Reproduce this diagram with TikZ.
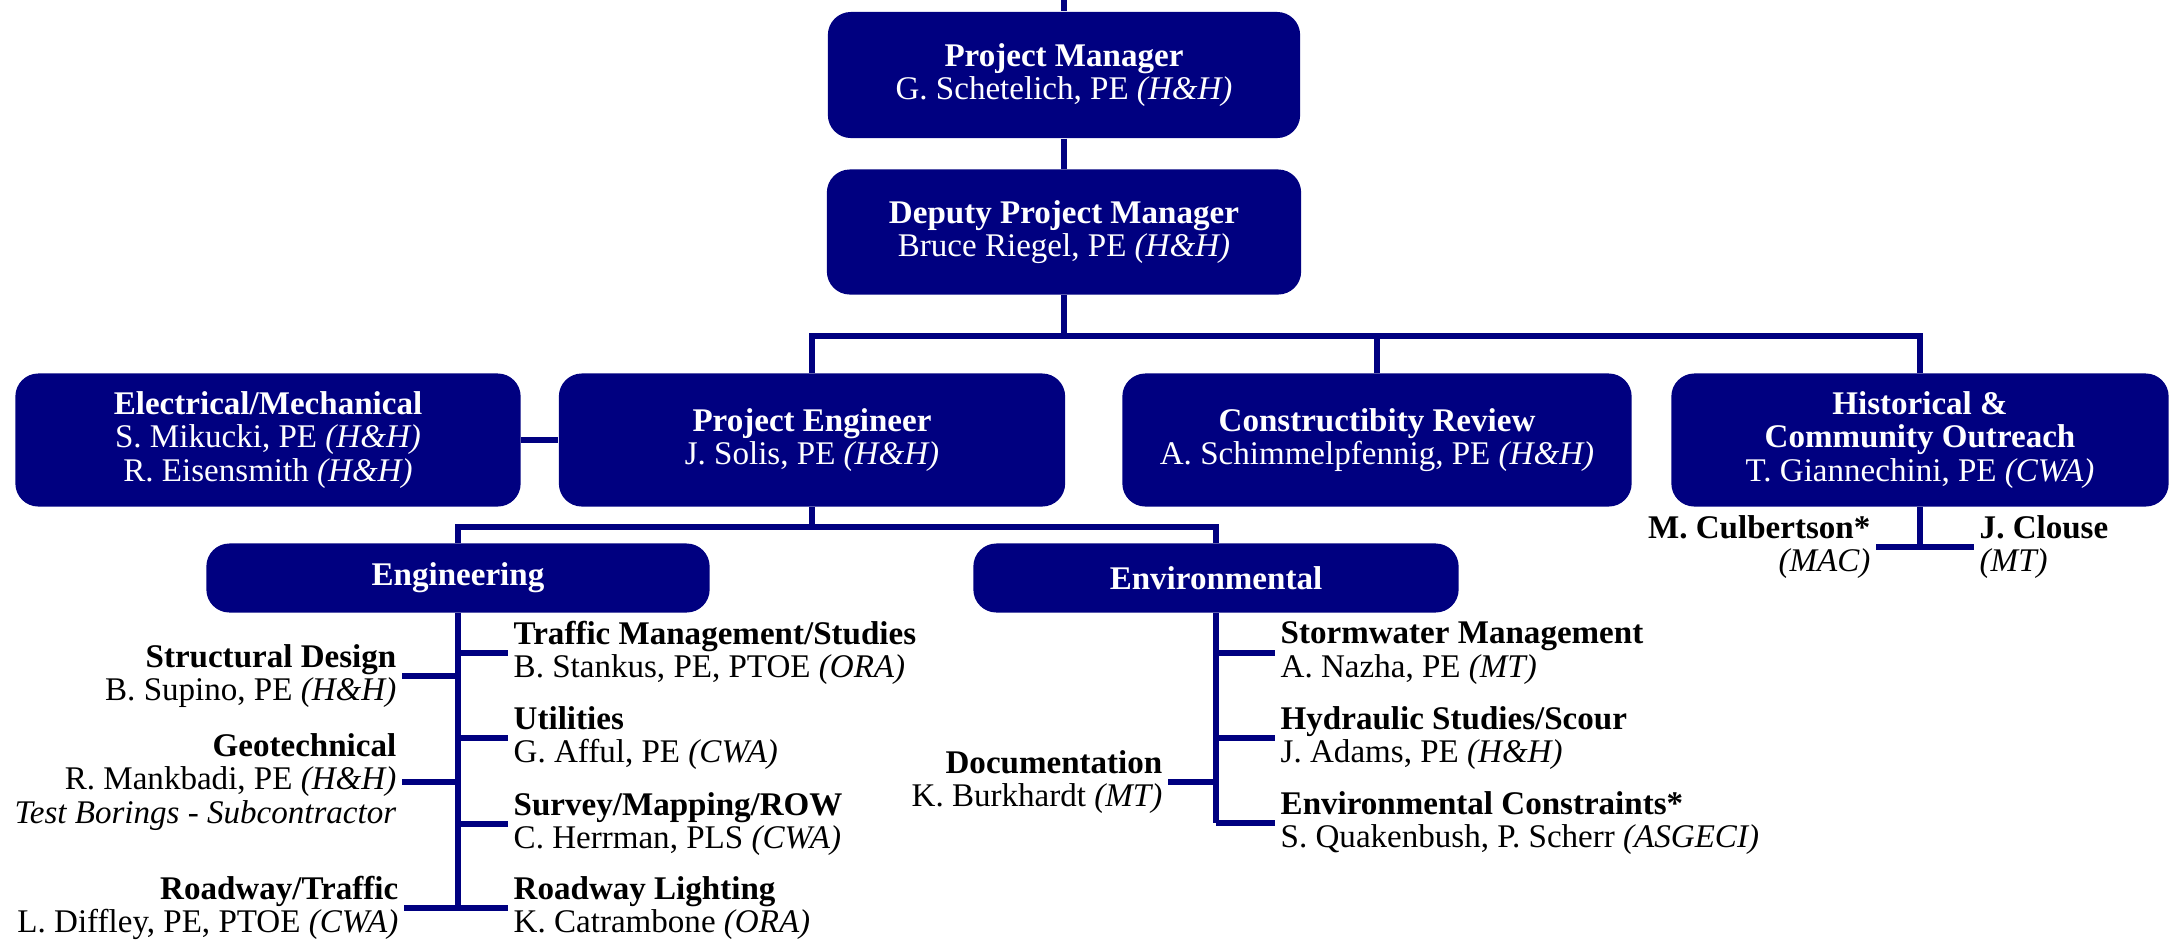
\documentclass[tikz,border=0pt]{standalone}
\usepackage{fontspec}
\setmainfont{Liberation Serif}
\usepackage{xcolor}
\definecolor{orgblue}{RGB}{0,0,128}
\usepackage{tikz}
\tikzstyle{box} = [
    rectangle, rounded corners=0.23cm,
    fill=orgblue, text=white,
    align=center, inner sep=0pt,
    minimum height=1.33cm,
    font=\fontsize{9.4}{9.5}\selectfont,
]
\tikzstyle{leftleaf} = [
    anchor=east, align=right,
    inner xsep=0.05cm, inner ysep=0pt,
    font=\fontsize{9.4}{9.5}\selectfont,
]
\tikzstyle{rightleaf} = [leftleaf, anchor=west, align=left]
\tikzstyle{wire} = [draw=orgblue, line width=1.8pt]

\begin{document}
\begin{tikzpicture}[x=0.01cm, y=-0.01cm]
    \useasboundingbox (0,0) rectangle (2172,951);

    % boxes
    \node (pm) at (1064,75) [box, minimum width=4.72cm, minimum height=1.26cm]
        {\textbf{Project Manager}\\G. Schetelich, PE \textit{(H\&H)}};
    \node (dpm) at (1064,232) [box, minimum width=4.74cm, minimum height=1.25cm]
        {\textbf{Deputy Project Manager}\\Bruce Riegel, PE \textit{(H\&H)}};
    \node (em) at (268,440) [box, minimum width=5.05cm]
        {\textbf{Electrical/Mechanical}\\S. Mikucki, PE \textit{(H\&H)}\\R. Eisensmith \textit{(H\&H)}};
    \node (pe) at (812,440) [box, minimum width=5.06cm]
        {\textbf{Project Engineer}\\J. Solis, PE \textit{(H\&H)}};
    \node (cr) at (1377,440) [box, minimum width=5.09cm]
        {\textbf{Constructibity Review}\\A. Schimmelpfennig, PE \textit{(H\&H)}};
    \node (hco) at (1920,440) [box, minimum width=4.97cm]
        {\textbf{Historical \&}\\\textbf{Community Outreach}\\T. Giannechini, PE \textit{(CWA)}};
    \node (eng) at (458,578) [box, minimum width=5.03cm, minimum height=0.69cm]
        {\textbf{Engineering}};
    \node (env) at (1216,578) [box, minimum width=4.85cm, minimum height=0.69cm]
        {\textbf{Environmental}};

    % engineering staff
    \node (sd) at (402,676) [leftleaf]
        {\textbf{Structural Design}\\B. Supino, PE \textit{(H\&H)}};
    \node (geo) at (402,782) [leftleaf]
        {\textbf{Geotechnical}\\R. Mankbadi, PE \textit{(H\&H)}\\\textit{Test Borings - Subcontractor}};
    \node (rt) at (404,908) [leftleaf]
        {\textbf{Roadway/Traffic}\\L. Diffley, PE, PTOE \textit{(CWA)}};
    \node (tms) at (508,653) [rightleaf]
        {\textbf{Traffic Management/Studies}\\B. Stankus, PE, PTOE \textit{(ORA)}};
    \node (util) at (508,738) [rightleaf]
        {\textbf{Utilities}\\G. Afful, PE \textit{(CWA)}};
    \node (smr) at (508,824) [rightleaf]
        {\textbf{Survey/Mapping/ROW}\\C. Herrman, PLS \textit{(CWA)}};
    \node (rl) at (508,908) [rightleaf]
        {\textbf{Roadway Lighting}\\K. Catrambone \textit{(ORA)}};

    % environmental staff
    \node (doc) at (1168,782) [leftleaf]
        {\textbf{Documentation}\\K. Burkhardt \textit{(MT)}};
    \node (swm) at (1275,653) [rightleaf]
        {\textbf{Stormwater Management}\\A. Nazha, PE \textit{(MT)}};
    \node (hss) at (1275,738) [rightleaf]
        {\textbf{Hydraulic Studies/Scour}\\J. Adams, PE \textit{(H\&H)}};
    \node (ec) at (1275,823) [rightleaf]
        {\textbf{Environmental Constraints*}\\S. Quakenbush, P. Scherr \textit{(ASGECI)}};

    % outreach staff
    \node (mc) at (1876,547) [leftleaf]
        {\textbf{M. Culbertson*}\\\textit{(MAC)}};
    \node (jc) at (1974,547) [rightleaf]
        {\textbf{J. Clouse}\\\textit{(MT)}};

    % lines
    \coordinate (top) at (1064,0);
    \coordinate (bar) at (1064,336);
    \coordinate (pebar) at (812,527);

    \draw [wire] (top) -- (pm.north);
    \draw [wire] (pm.south) -- (dpm.north);
    \draw [wire] (dpm.south) -- (bar);
    \draw [wire] (pe.north) |- (bar) -| (hco.north);
    \draw [wire] (cr.north) -- (cr.north |- bar);
    \draw [wire] (em.east) -- (pe.west);
    \draw [wire] (pe.south) -- (pebar);
    \draw [wire] (eng.north) |- (pebar) -| (env.north);
    \draw [wire] (hco.south) -- (hco.south |- mc.east);
    \draw [wire] (mc.east) -- (jc.west);

    \draw [wire] (eng.south) -- (eng.south |- rl.west);
    \foreach \n in {sd,geo,rt}
        \draw [wire] (eng.south |- \n.east) -- (\n.east);
    \foreach \n in {tms,util,smr,rl}
        \draw [wire] (eng.south |- \n.west) -- (\n.west);

    \draw [wire] (env.south) -- (env.south |- ec.west);
    \draw [wire] (env.south |- doc.east) -- (doc.east);
    \foreach \n in {swm,hss,ec}
        \draw [wire] (env.south |- \n.west) -- (\n.west);

\end{tikzpicture}
\end{document}
